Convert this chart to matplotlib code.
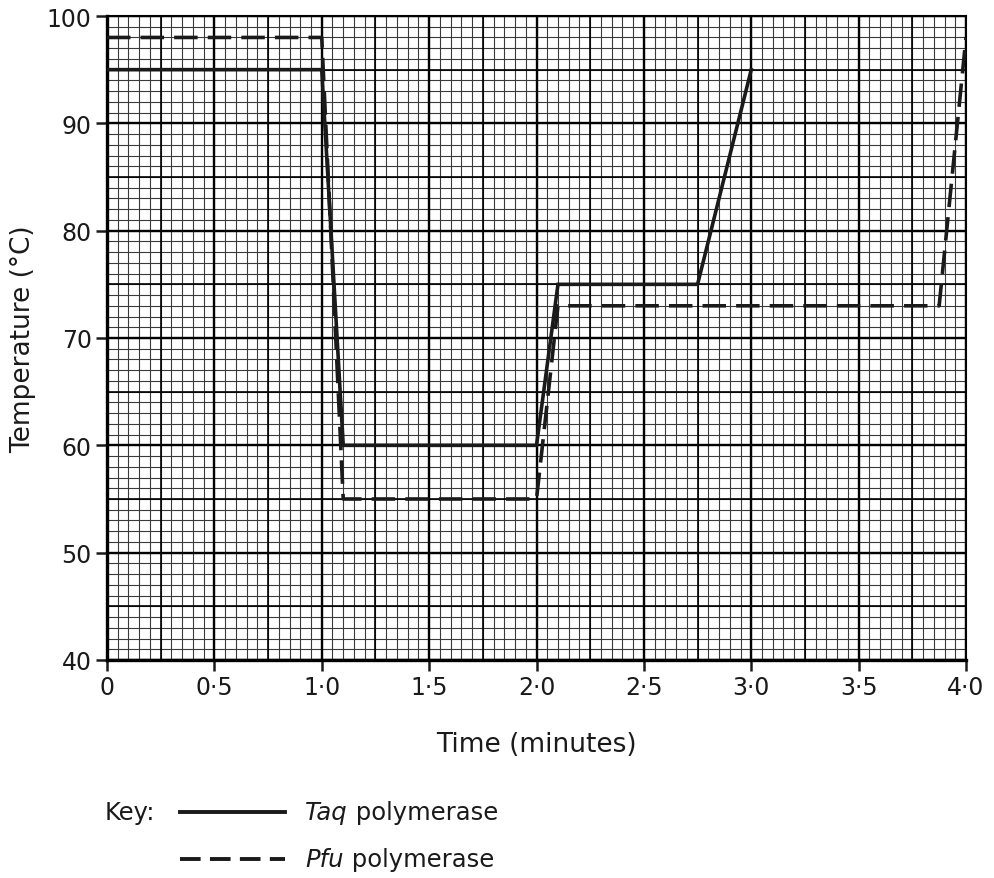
import numpy as np
import matplotlib
matplotlib.use("Agg")
import matplotlib.pyplot as plt
from matplotlib.lines import Line2D

plt.rcParams['font.family'] = ['DejaVu Sans']

# Temperature profiles of one PCR cycle
taq_time = [0, 1.0, 1.1, 2.0, 2.1, 2.75, 3.0]
taq_temp = [95, 95, 60, 60, 75, 75, 95]
pfu_time = [0, 1.0, 1.1, 2.0, 2.1, 3.875, 4.0]
pfu_temp = [98, 98, 55, 55, 73, 73, 98]

x_ticks = [0, 0.5, 1.0, 1.5, 2.0, 2.5, 3.0, 3.5, 4.0]
x_tick_labels = ['0', '0·5', '1·0', '1·5', '2·0', '2·5', '3·0', '3·5', '4·0']
y_ticks = [40, 50, 60, 70, 80, 90, 100]

W, H = 994, 879
ink = '#1a1a1a'
fig = plt.figure(figsize=(W / 100, H / 100), dpi=100)
ax = fig.add_axes([107 / W, 1 - 661 / H, (966 - 107) / W, (661 - 17) / H])

ax.set_xlim(0, 4)
ax.set_ylim(40, 100)

# graph paper grid: fine, medium, bold
for x in np.arange(0, 4.0001, 0.05):
    ax.axvline(x, color='#3a3a3a', lw=0.8, zorder=1)
for y in np.arange(40, 100.001, 1):
    ax.axhline(y, color='#3a3a3a', lw=0.8, zorder=1)
for x in np.arange(0, 4.0001, 0.25):
    ax.axvline(x, color='black', lw=1.2, zorder=1)
for y in np.arange(40, 100.001, 5):
    ax.axhline(y, color='black', lw=1.2, zorder=1)
for x in x_ticks:
    ax.axvline(x, color='black', lw=1.7, zorder=1)
for y in y_ticks:
    ax.axhline(y, color='black', lw=1.7, zorder=1)

ax.plot(taq_time, taq_temp, color=ink, lw=2.6, solid_joinstyle='miter', zorder=3)
ax.plot(pfu_time, pfu_temp, color=ink, lw=2.6, dashes=(6.5, 2.8), zorder=3)

ax.set_xticks(x_ticks)
ax.set_xticklabels(x_tick_labels)
ax.set_yticks(y_ticks)
ax.tick_params(direction='out', length=8, width=1.8, labelsize=17, pad=3, colors=ink)

for side in ['top', 'right']:
    ax.spines[side].set_linewidth(1.5)
for side in ['left', 'bottom']:
    ax.spines[side].set_linewidth(2.4)

ax.set_xlabel('Time (minutes)', fontsize=19, labelpad=23, color=ink)
ax.set_ylabel('Temperature (°C)', fontsize=19, labelpad=8, color=ink)

# key below the chart
fig.text(105 / W, 1 - 813 / H, 'Key:', fontsize=17.5, va='center', ha='left', color=ink)
fig.add_artist(Line2D([180 / W, 285 / W], [1 - 813 / H, 1 - 813 / H], color=ink, lw=2.8))
fig.add_artist(Line2D([180 / W, 285 / W], [1 - 860 / H, 1 - 860 / H], color=ink, lw=2.8,
                      dashes=(5.3, 2.4)))

t1 = fig.text(305 / W, 1 - 813 / H, 'Taq', fontsize=17.5, style='italic', va='center', ha='left', color=ink)
ax.annotate(' polymerase', xy=(1, 0.5), xycoords=t1, va='center', ha='left', fontsize=17.5, color=ink,
            annotation_clip=False)
t2 = fig.text(305 / W, 1 - 860 / H, 'Pfu', fontsize=17.5, style='italic', va='center', ha='left', color=ink)
ax.annotate(' polymerase', xy=(1, 0.5), xycoords=t2, va='center', ha='left', fontsize=17.5, color=ink,
            annotation_clip=False)

fig.savefig('out.png', dpi=100)
